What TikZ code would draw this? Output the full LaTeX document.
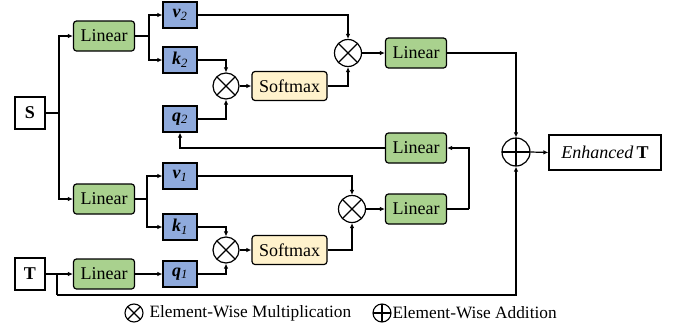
\documentclass[tikz,border=0pt]{standalone}
\usepackage{fontspec}
\setmainfont{Liberation Serif}
\usetikzlibrary{arrows.meta,calc}
\definecolor{lingreen}{HTML}{A9D18E}
\definecolor{vecblue}{HTML}{8FAADC}
\definecolor{softy}{HTML}{FFF2CC}
\begin{document}
\begin{tikzpicture}[x=1pt,y=-1pt,
  line width=1.2pt,
  every node/.style={font=\fontsize{18}{20}\selectfont, inner sep=0pt},
  arr/.style={-{Latex[length=5pt,width=4.5pt]}},
  linbox/.style={draw, fill=lingreen, rounded corners=3pt, minimum width=61pt, minimum height=30pt},
  vecbox/.style={draw, fill=vecblue, minimum width=34pt, minimum height=26pt},
  smbox/.style={draw, fill=softy, rounded corners=3pt, minimum width=75pt, minimum height=29pt},
  inbox/.style={draw, fill=white, minimum width=30pt, minimum height=32pt},
  otimesn/.style={draw, circle, minimum size=#1, path picture={
     \draw (path picture bounding box.north west) -- (path picture bounding box.south east)
           (path picture bounding box.north east) -- (path picture bounding box.south west);}},
  oplusn/.style={draw, circle, minimum size=#1, path picture={
     \draw (path picture bounding box.north) -- (path picture bounding box.south)
           (path picture bounding box.west) -- (path picture bounding box.east);}},
]
\useasboundingbox (0,0) rectangle (678,330);

% inputs
\node[inbox] (S) at (30,113) {\textbf{S}};
\node[inbox] (T) at (30,274) {\textbf{T}};

% linear layers
\node[linbox] (L2) at (104,36) {Linear};
\node[linbox] (L1) at (104,199) {Linear};
\node[linbox] (LT) at (104,274) {Linear};

% vectors
\node[vecbox] (v2) at (180,15) {\textbf{\textit{v}}\textsubscript{\textit{2}}};
\node[vecbox] (k2) at (180,60) {\textbf{\textit{k}}\textsubscript{\textit{2}}};
\node[vecbox] (q2) at (180,119) {\textbf{\textit{q}}\textsubscript{\textit{2}}};
\node[vecbox] (v1) at (180,176) {\textbf{\textit{v}}\textsubscript{\textit{1}}};
\node[vecbox] (k1) at (180,227) {\textbf{\textit{k}}\textsubscript{\textit{1}}};
\node[vecbox] (q1) at (180,274) {\textbf{\textit{q}}\textsubscript{\textit{1}}};

% attention
\node[otimesn=26pt] (m2) at (226,86) {};
\node[smbox] (sm2) at (289.5,86) {Softmax};
\node[otimesn=26pt] (m1) at (226,250) {};
\node[smbox] (sm1) at (289.5,250) {Softmax};

\node[otimesn=27pt] (M2) at (348,53) {};
\node[linbox] (Lo2) at (416,53) {Linear};
\node[otimesn=27pt] (M1) at (352,209) {};
\node[linbox] (Lo1) at (416,209) {Linear};
\node[linbox] (LF) at (416,148) {Linear};

\node[oplusn=28pt] (P) at (516,152) {};
\node[draw, minimum width=112pt, minimum height=35pt] (E) at (605,152.5) {\textit{Enhanced}\,\textbf{T}};

% junctions
\coordinate (sj) at (59,113);
\coordinate (b2) at (149,36);
\coordinate (b1) at (147,199);
\coordinate (tj) at (57,274);
\coordinate (tb) at (57,295);
\coordinate (fb) at (469,209);

% S branch
\draw (S.east) -- (sj);
\draw[arr] (sj) |- (L2.west);
\draw[arr] (sj) |- (L1.west);

% upper stream
\draw (L2.east) -- (b2);
\draw[arr] (b2) |- (v2.west);
\draw[arr] (b2) |- (k2.west);
\draw[arr] (k2.east) -| (m2.north);
\draw[arr] (q2.east) -| (m2.south);
\draw[arr] (m2.east) -- (sm2.west);
\draw[arr] (v2.east) -| (M2.north);
\draw[arr] (sm2.east) -| (M2.south);
\draw[arr] (M2.east) -- (Lo2.west);
\draw[arr] (Lo2.east) -| (P.north);

% lower stream
\draw (L1.east) -- (b1);
\draw[arr] (b1) |- (v1.west);
\draw[arr] (b1) |- (k1.west);
\draw[arr] (k1.east) -| (m1.north);
\draw[arr] (q1.east) -| (m1.south);
\draw[arr] (m1.east) -- (sm1.west);
\draw[arr] (v1.east) -| (M1.north);
\draw[arr] (sm1.east) -| (M1.south);
\draw[arr] (M1.east) -- (Lo1.west);
\draw (Lo1.east) -- (fb);
\draw[arr] (fb) |- (LF.east);
\draw[arr] (LF.west) -| (q2.south);

% T stream
\draw[arr] (T.east) -- (LT.west);
\draw[arr] (LT.east) -- (q1.west);
\draw (tj) -- (tb);
\draw[arr] (tb) -| (P.south);
\draw[arr] (P.east) -- (E.west);

% legend
\node[otimesn=18pt, line width=1.1pt] (lgm) at (134,313) {};
\node[anchor=west, font=\fontsize{17.3}{19}\selectfont] (lgmt) at (149,313) {Element-Wise Multiplication};
\node[oplusn=18pt, line width=1.1pt] (lgp) at (382,313) {};
\node[anchor=west, font=\fontsize{17.3}{19}\selectfont] (lgpt) at (392,313) {Element-Wise Addition};
\end{tikzpicture}
\end{document}
